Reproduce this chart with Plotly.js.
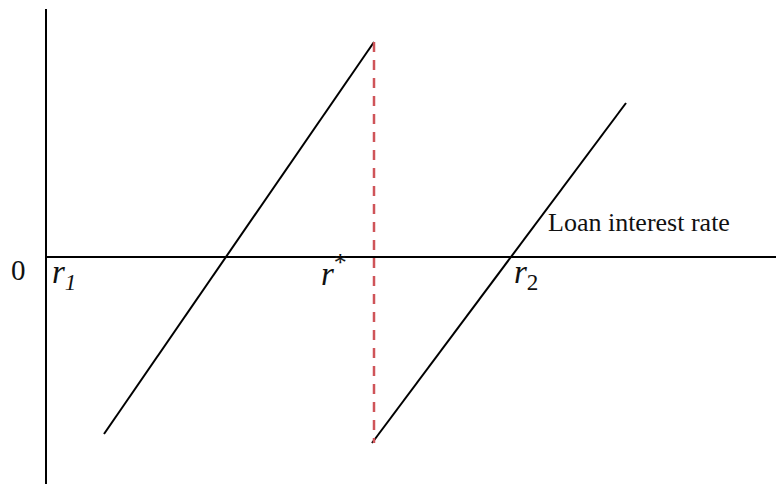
<!DOCTYPE html>
<html>
<head>
<meta charset="utf-8">
<script src="https://cdn.plot.ly/plotly-3.0.1.min.js"></script>
<style>html,body{margin:0;padding:0;background:#fff;}#chart{width:776px;height:484px;}</style>
</head>
<body>
<div id="chart"></div>
<script>
// Curve 1 (rising, left)
const curve1X = [58, 328];
const curve1Y = [-177, 215];
// Curve 2 (rising, right)
const curve2X = [326, 580];
const curve2Y = [-186, 154];
// Dashed vertical jump at r*
const jumpX = [328, 328];
const jumpY = [215, -186];
// Axes extents
const hAxisX = [0, 730];
const hAxisY = [0, 0];
const vAxisX = [0, 0];
const vAxisY = [248, -227];
// Labels
const labelTexts = ["0", "<i>r</i><sub><i>1</i></sub>", "<i>r</i><sup><span style=\"font-size:26px\">*</span></sup>", "<i>r</i><sub>2</sub>", "Loan interest rate"];
const labelX = [-37, 4, 273, 466, 500];
const labelY = [-13, -17, -13, -17, 35];
const labelSizes = [29, 33, 33, 33, 26];

const serif = "Liberation Serif, Times New Roman, serif";

const traces = [
  {x: hAxisX, y: hAxisY, mode: "lines", line: {color: "#000", width: 2}, hoverinfo: "skip"},
  {x: vAxisX, y: vAxisY, mode: "lines", line: {color: "#000", width: 2}, hoverinfo: "skip"},
  {x: curve1X, y: curve1Y, mode: "lines", line: {color: "#000", width: 2}, hoverinfo: "skip"},
  {x: curve2X, y: curve2Y, mode: "lines", line: {color: "#000", width: 2}, hoverinfo: "skip"},
  {x: jumpX, y: jumpY, mode: "lines", line: {color: "#cf5459", width: 2.5, dash: "10px,8px"}, hoverinfo: "skip"}
];

const annotations = labelTexts.map((t, i) => ({
  x: labelX[i], y: labelY[i], xref: "x", yref: "y",
  text: t, showarrow: false, xanchor: "left", yanchor: "middle",
  font: {family: serif, size: labelSizes[i], color: "#111"}
}));

const layout = {
  width: 776, height: 484,
  margin: {l: 0, r: 0, t: 0, b: 0},
  paper_bgcolor: "#fff", plot_bgcolor: "#fff",
  showlegend: false,
  xaxis: {range: [-46, 730], visible: false, fixedrange: true},
  yaxis: {range: [-227, 257], visible: false, fixedrange: true},
  annotations: annotations
};

Plotly.newPlot("chart", traces, layout, {staticPlot: true});
</script>
</body>
</html>
